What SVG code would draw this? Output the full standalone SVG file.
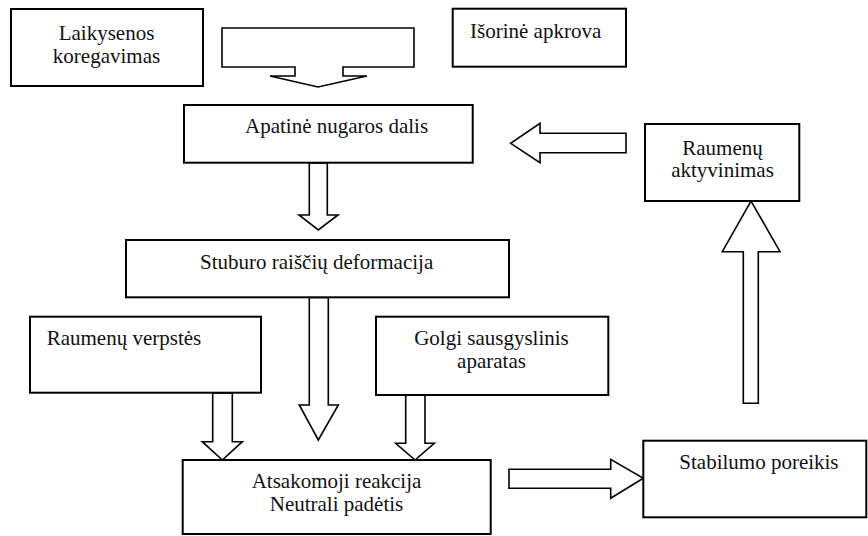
<svg xmlns="http://www.w3.org/2000/svg" width="868" height="536" viewBox="0 0 868 536">
<style>
.box{fill:#fff;stroke:#000;stroke-width:2}
.arr{fill:#fff;stroke:#000;stroke-width:1.6;stroke-linejoin:miter}
.t{font-family:'Liberation Serif','DejaVu Serif',serif;font-size:21px;fill:#111}
.m{text-anchor:middle}
</style>
<rect width="868" height="536" fill="#fff"/>
<g id="connectors">
<polygon class="arr" points="222,28 414,28 414,67 343,67 343,76 367,76 318,87 270,76 295,76 295,67 222,67"/>
<polygon class="arr" points="309.3,163 327.3,163 327.3,215 338,215 318.3,230 299,215 309.3,215"/>
<polygon class="arr" points="309.3,297.5 328.3,297.5 328.3,405 338.3,405 318.3,440 299.3,405 309.3,405"/>
<polygon class="arr" points="212.7,393 232.3,393 232.3,441.7 242.3,441.7 222.3,460 202.3,441.7 212.7,441.7"/>
<polygon class="arr" points="405.7,395 425,395 425,443.3 434.3,443.3 415,460 395.7,443.3 405.7,443.3"/>
<polygon class="arr" points="509,469.3 610.7,469.3 610.7,459.3 643.3,478.3 610.7,498.3 610.7,488.3 509,488.3"/>
<polygon class="arr" points="743.3,403.3 758.3,403.3 758.3,251.7 780,251.7 751,201 722.3,251.7 743.3,251.7"/>
<polygon class="arr" points="626,133.3 540,133.3 540,123.3 510.7,143.3 540,162.7 540,152.7 626,152.7"/>
</g>
<g font-family="Liberation Serif, DejaVu Serif, serif" font-size="21">
<g id="laikysenos">
<rect class="box" x="11" y="9" width="192" height="77"/>
<text class="t m" x="106.5" y="40">Laikysenos</text>
<text class="t m" x="106.5" y="63">koregavimas</text>
</g>
<g id="isorine">
<rect class="box" x="452.7" y="8.7" width="173.3" height="58"/>
<text class="t" x="470" y="38.3">Išorinė apkrova</text>
</g>
<g id="apatine">
<rect class="box" x="184" y="105" width="288.7" height="57.7"/>
<text class="t" x="245" y="133">Apatinė nugaros dalis</text>
</g>
<g id="raumenu-aktyvinimas">
<rect class="box" x="645" y="124" width="154.3" height="77"/>
<text class="t m" x="722.5" y="155">Raumenų</text>
<text class="t m" x="722.5" y="177.3">aktyvinimas</text>
</g>
<g id="stuburo">
<rect class="box" x="126" y="240" width="383" height="57.3"/>
<text class="t" x="200" y="269.3">Stuburo raiščių deformacija</text>
</g>
<g id="verpstes">
<rect class="box" x="30" y="316.7" width="231" height="76"/>
<text class="t" x="46.7" y="345">Raumenų verpstės</text>
</g>
<g id="golgi">
<rect class="box" x="376" y="316.7" width="232.3" height="78.3"/>
<text class="t m" x="491.5" y="345">Golgi sausgyslinis</text>
<text class="t m" x="491.5" y="368">aparatas</text>
</g>
<g id="atsakomoji">
<rect class="box" x="182.7" y="460" width="308" height="74"/>
<text class="t m" x="336.5" y="488.3">Atsakomoji reakcija</text>
<text class="t m" x="336.5" y="510.7">Neutrali padėtis</text>
</g>
<g id="stabilumo">
<rect class="box" x="643.3" y="440.7" width="223" height="76.6"/>
<text class="t" x="679.3" y="469.3">Stabilumo poreikis</text>
</g>
</g>
</svg>
